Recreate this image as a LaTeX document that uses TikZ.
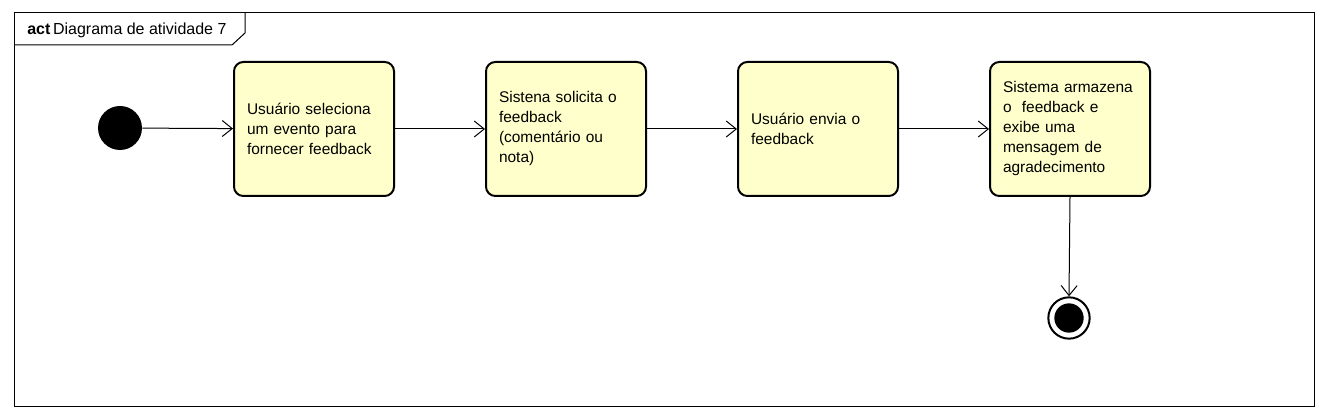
\documentclass[tikz,border=0pt]{standalone}
\usepackage{fontspec}
\setmainfont{Liberation Sans}
\usetikzlibrary{arrows.meta}
\definecolor{actfill}{RGB}{255,255,204}
\begin{document}
\begin{tikzpicture}[x=0.75pt,y=-0.75pt,
  actbox/.style={draw=black, line width=1.5pt, fill=actfill, rounded corners=7pt,
    text width=100.5pt, inner xsep=9.75pt, inner ysep=0pt, minimum height=100.5pt,
    align=left, font=\fontsize{11.6}{15}\selectfont, anchor=north west},
  flow/.style={draw=black, line width=0.75pt, -{Straight Barb[length=7.5pt,width=12pt,line width=0.75pt]}},
  frameline/.style={draw=black, line width=0.75pt}]
\useasboundingbox (0,0) rectangle (1328,420);
\fill[white] (0,0) rectangle (1328,420);
% frame
\draw[frameline] (14,13) rectangle (1314,406);
\draw[frameline] (14,45) -- (232,45) -- (245,33) -- (245,13);
\node[anchor=west, inner sep=0pt, font=\fontsize{12}{14}\selectfont] (title) at (27,30) {\textbf{act}\,Diagrama de atividade 7};
% nodes
\node[circle, fill=black, minimum size=33pt, inner sep=0pt] (start) at (120,128) {};
\node[actbox] (a1) at (233,61) {Usuário seleciona\\um evento para\\fornecer feedback};
\node[actbox] (a2) at (485,61) {Sistena solicita o\\feedback\\(comentário ou\\nota)};
\node[actbox] (a3) at (737,61) {Usuário envia o\\feedback};
\node[actbox] (a4) at (989,61) {Sistema armazena\\o\ \ feedback e\\exibe uma\\mensagem de\\agradecimento};
\node[circle, draw=black, line width=1.5pt, fill=white, minimum size=31pt, inner sep=0pt] (end) at (1069,318) {};
\node[circle, fill=black, minimum size=22pt, inner sep=0pt] (endin) at (end.center) {};
% flows
\draw[flow] (start) -- (a1);
\draw[flow] (a1) -- (a2);
\draw[flow] (a2) -- (a3);
\draw[flow] (a3) -- (a4);
\draw[flow] (a4.south) -- (end.north);
\end{tikzpicture}
\end{document}
